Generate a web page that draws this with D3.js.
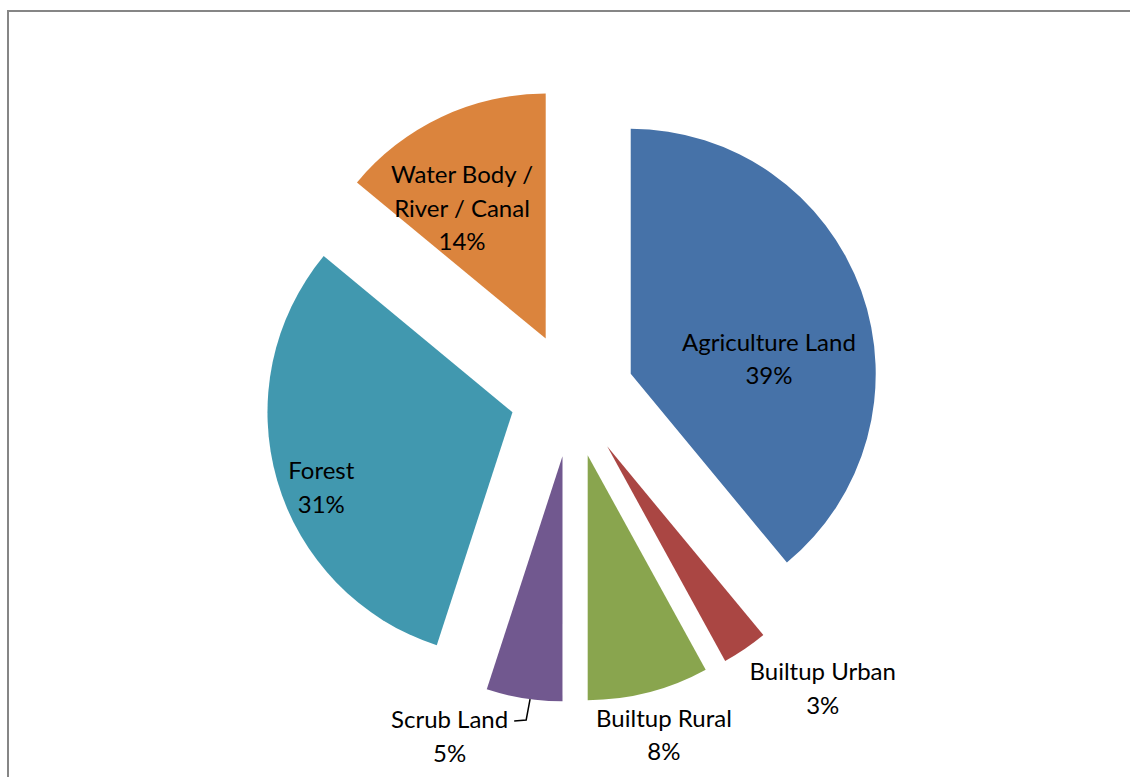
<!DOCTYPE html>
<html>
<head>
<meta charset="utf-8">
<script src="https://cdn.jsdelivr.net/npm/d3@7"></script>
<style>
  html, body { margin: 0; padding: 0; background: #fff; }
  svg { display: block; }
  text { font-family: Lato, "Open Sans", sans-serif; fill: #000; }
</style>
</head>
<body>
<svg id="chart" width="1130" height="777"></svg>
<script>
// Land use shares, clockwise from 12 o'clock
const categories = [
  "Agriculture Land",
  "Builtup Urban",
  "Builtup Rural",
  "Scrub Land",
  "Forest",
  "Water Body /\nRiver / Canal"
];
const shares = [39, 3, 8, 5, 31, 14];
const sliceColors = ["#4672A8", "#AA4643", "#89A54E", "#71588F", "#4198AF", "#DB843D"];

// Label placement per slice: [angle shift from slice middle (deg), distance as fraction of radius]
const labelPlacement = [
  [13.2, 0.568],
  [-7.6, 1.32],
  [-0.9, 1.18],
  [13.0, 1.23],
  [-5.0, 0.837],
  [-7.3, 0.636]
];

const W = 1130, H = 777;
const cx = 572.2, cy = 394.9;
const radius = 245;
const explode = 62.2;
const fontSize = 24;
const lineHeight = 33.5;

const svg = d3.select("#chart");

// chart area frame
svg.append("rect")
  .attr("x", 8).attr("y", 11)
  .attr("width", 1140).attr("height", 800)
  .attr("fill", "none")
  .attr("stroke", "#868686")
  .attr("stroke-width", 2);

const data = categories.map((c, i) => ({ name: c, value: shares[i], color: sliceColors[i], place: labelPlacement[i] }));

const pie = d3.pie().sort(null).value(d => d.value).startAngle(0).endAngle(2 * Math.PI);
const arcs = pie(data);
const arc = d3.arc().innerRadius(0).outerRadius(radius);

const polar = (a, r) => [Math.sin(a) * r, -Math.cos(a) * r];

const root = svg.append("g").attr("transform", `translate(${cx},${cy})`);

const slices = root.selectAll("g.slice")
  .data(arcs)
  .join("g")
  .attr("class", "slice")
  .attr("transform", d => {
    const mid = (d.startAngle + d.endAngle) / 2;
    const [x, y] = polar(mid, explode);
    return `translate(${x},${y})`;
  });

slices.append("path")
  .attr("d", arc)
  .attr("fill", d => d.data.color);

// data labels
slices.each(function (d) {
  const g = d3.select(this);
  const mid = (d.startAngle + d.endAngle) / 2;
  const a = mid + d.data.place[0] * Math.PI / 180;
  const [lx, ly] = polar(a, d.data.place[1] * radius);
  const lines = d.data.name.split("\n").concat([d.data.value + "%"]);
  const n = lines.length;
  const t = g.append("text")
    .attr("text-anchor", "middle")
    .style("font-size", fontSize + "px");
  lines.forEach((s, i) => {
    t.append("tspan")
      .attr("x", lx)
      .attr("y", ly + (i - (n - 1) / 2) * lineHeight)
      .attr("dominant-baseline", "central")
      .text(s);
  });

  // leader line for the narrow slice whose label sits beside it
  if (d.data.name === "Scrub Land") {
    const firstW = t.select("tspan").node().getComputedTextLength();
    const y0 = ly - (n - 1) / 2 * lineHeight + 2;
    const xr = lx + firstW / 2;
    const [sx, sy] = polar(mid - 1.4 * Math.PI / 180, radius);
    g.append("path")
      .attr("d", d3.line()([[xr + 6, y0], [xr + 18, y0 - 1], [sx, sy]]))
      .attr("fill", "none")
      .attr("stroke", "#000")
      .attr("stroke-width", 1.5);
  }
});
</script>
</body>
</html>
